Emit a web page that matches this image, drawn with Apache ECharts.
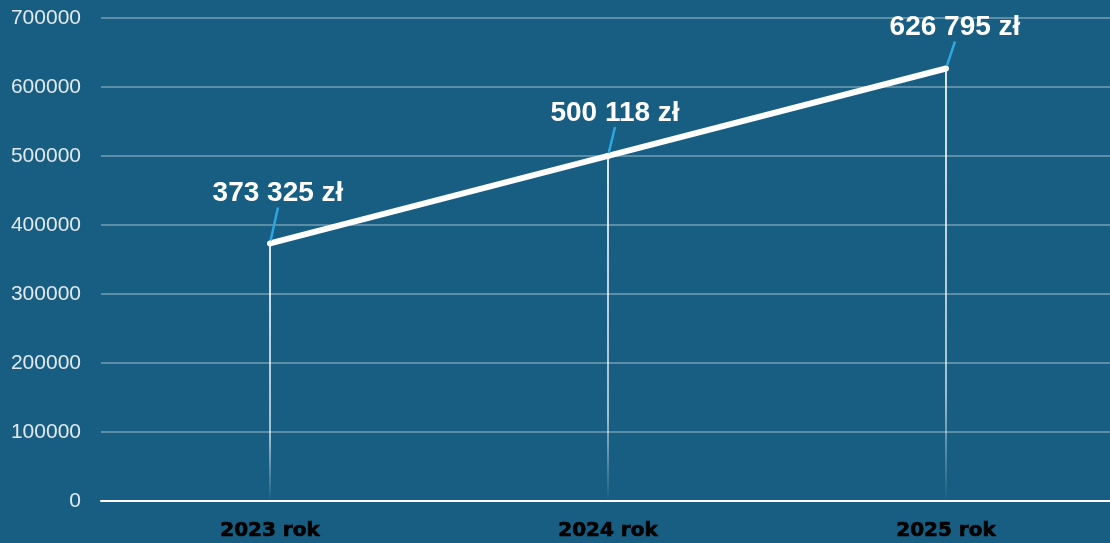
<!DOCTYPE html>
<html>
<head>
<meta charset="utf-8">
<script src="https://cdn.jsdelivr.net/npm/echarts@6/dist/echarts.min.js"></script>
<style>
html,body{margin:0;padding:0;background:#175e82;}
#c{width:1110px;height:543px;}
</style>
</head>
<body>
<div id="c"></div>
<script>
const categories = ['2023 rok', '2024 rok', '2025 rok'];
const values = [373325, 500118, 626795];
const valueLabels = ['373 325 zł', '500 118 zł', '626 795 zł'];
const yTicks = { min: 0, max: 700000, interval: 100000 };
const labelShiftY = [-16, -9, -7];
const labelShiftX = [8, 7, 9];

const chart = echarts.init(document.getElementById('c'));
chart.setOption({
  backgroundColor: '#175e82',
  animation: false,
  grid: { left: 101, right: -5, top: 18, bottom: 42, containLabel: false, outerBoundsMode: 'none' },
  xAxis: {
    type: 'category',
    data: categories,
    boundaryGap: true,
    axisLine: { lineStyle: { color: '#ffffff', width: 2 } },
    axisTick: { show: false },
    axisLabel: {
      color: '#000000', fontSize: 20, fontWeight: 'bold',
      fontFamily: 'DejaVu Sans, sans-serif',
      textBorderColor: '#000000', textBorderWidth: 0.7,
      margin: 20
    }
  },
  yAxis: {
    type: 'value',
    min: yTicks.min, max: yTicks.max, interval: yTicks.interval,
    axisLine: { show: false },
    axisTick: { show: false },
    axisLabel: {
      color: '#e2e9ed', fontSize: 21, margin: 20,
      fontFamily: 'Liberation Sans, Arial, sans-serif',
      formatter: v => String(v)
    },
    splitLine: { lineStyle: { color: 'rgba(255,255,255,0.3)', width: 2 } }
  },
  series: [
    {
      type: 'bar',
      data: values,
      barWidth: 2,
      z: 1,
      silent: true,
      itemStyle: {
        color: new echarts.graphic.LinearGradient(0, 0, 0, 1, [
          { offset: 0, color: 'rgba(255,255,255,0.85)' },
          { offset: 0.75, color: 'rgba(255,255,255,0.6)' },
          { offset: 1, color: 'rgba(255,255,255,0)' }
        ])
      }
    },
    {
      type: 'line',
      data: values,
      z: 3,
      symbol: 'circle',
      symbolSize: 6,
      itemStyle: { color: '#ffffff' },
      lineStyle: { color: '#ffffff', width: 6 },
      label: {
        show: true,
        position: 'top',
        distance: 5,
        formatter: p => valueLabels[p.dataIndex],
        color: '#ffffff',
        fontSize: 28,
        fontWeight: 'bold',
        fontFamily: 'Liberation Sans, Arial, sans-serif',
        padding: [0, 0, 12, 0]
      },
      labelLayout: p => ({ dx: labelShiftX[p.dataIndex], dy: labelShiftY[p.dataIndex] }),
      labelLine: {
        show: true,
        showAbove: true,
        length2: 0,
        lineStyle: { color: '#2fa6e0', width: 2.5 }
      }
    }
  ]
});
</script>
</body>
</html>
